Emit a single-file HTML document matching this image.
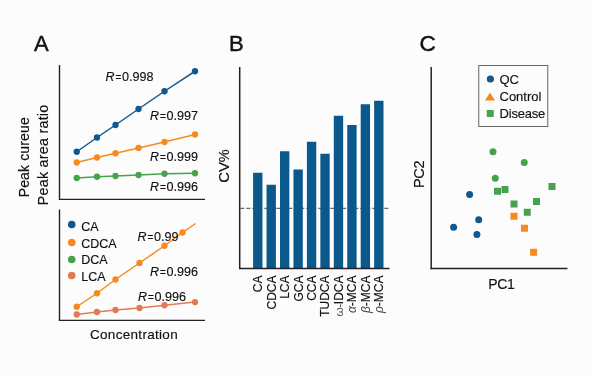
<!DOCTYPE html>
<html><head><meta charset="utf-8"><style>
html,body{margin:0;padding:0;background:#fcfcfc;}
svg{display:block;will-change:transform;}
text{font-family:"Liberation Sans",sans-serif;stroke:#111;stroke-width:0.15px;}
</style></head><body>
<svg width="592" height="377" viewBox="0 0 592 377">
<rect width="592" height="377" fill="#fcfcfc"/>
<text x="34" y="51.3" font-size="22" fill="#111" text-anchor="start" style="stroke-width:0.45px">A</text>
<text x="228.9" y="50.8" font-size="22" fill="#111" text-anchor="start" style="stroke-width:0.45px">B</text>
<text x="419.6" y="50.9" font-size="22.6" fill="#111" text-anchor="start" style="stroke-width:0.45px">C</text>
<line x1="59.5" y1="65" x2="59.5" y2="199.4" stroke="#222" stroke-width="1.4" />
<line x1="58.8" y1="199.4" x2="205" y2="199.4" stroke="#222" stroke-width="1.4" />
<polyline points="76.75,151.75 97,137.5 115.5,125 138.5,109 164.5,91.25 195,71.25" fill="none" stroke="#0f5890" stroke-width="1.5"/>
<circle cx="76.75" cy="151.75" r="3.15" fill="#0f5890"/>
<circle cx="97" cy="137.5" r="3.15" fill="#0f5890"/>
<circle cx="115.5" cy="125" r="3.15" fill="#0f5890"/>
<circle cx="138.5" cy="109" r="3.15" fill="#0f5890"/>
<circle cx="164.5" cy="91.25" r="3.15" fill="#0f5890"/>
<circle cx="195" cy="71.25" r="3.15" fill="#0f5890"/>
<polyline points="76.75,162.5 97,157.5 115.5,153.25 138.5,148 164.5,142 195,134.5" fill="none" stroke="#f7891f" stroke-width="1.5"/>
<circle cx="76.75" cy="162.5" r="3.15" fill="#f7891f"/>
<circle cx="97" cy="157.5" r="3.15" fill="#f7891f"/>
<circle cx="115.5" cy="153.25" r="3.15" fill="#f7891f"/>
<circle cx="138.5" cy="148" r="3.15" fill="#f7891f"/>
<circle cx="164.5" cy="142" r="3.15" fill="#f7891f"/>
<circle cx="195" cy="134.5" r="3.15" fill="#f7891f"/>
<polyline points="76.75,178 97,176.75 115.5,176 138.5,175 164.5,173.75 195,173.25" fill="none" stroke="#45a34f" stroke-width="1.5"/>
<circle cx="76.75" cy="178" r="3.15" fill="#45a34f"/>
<circle cx="97" cy="176.75" r="3.15" fill="#45a34f"/>
<circle cx="115.5" cy="176" r="3.15" fill="#45a34f"/>
<circle cx="138.5" cy="175" r="3.15" fill="#45a34f"/>
<circle cx="164.5" cy="173.75" r="3.15" fill="#45a34f"/>
<circle cx="195" cy="173.25" r="3.15" fill="#45a34f"/>
<text x="105.5" y="80.75" font-size="12.5" fill="#111" text-anchor="start" ><tspan font-style="italic">R</tspan><tspan font-size="10" dx="1.0">=</tspan><tspan font-size="12.6" dx="0.6">0.998</tspan></text>
<text x="150" y="120" font-size="12.5" fill="#111" text-anchor="start" ><tspan font-style="italic">R</tspan><tspan font-size="10" dx="1.0">=</tspan><tspan font-size="12.6" dx="0.6">0.997</tspan></text>
<text x="150" y="161.25" font-size="12.5" fill="#111" text-anchor="start" ><tspan font-style="italic">R</tspan><tspan font-size="10" dx="1.0">=</tspan><tspan font-size="12.6" dx="0.6">0.999</tspan></text>
<text x="150" y="191.25" font-size="12.5" fill="#111" text-anchor="start" ><tspan font-style="italic">R</tspan><tspan font-size="10" dx="1.0">=</tspan><tspan font-size="12.6" dx="0.6">0.996</tspan></text>
<text transform="translate(29.2,157.2) rotate(-90)" font-size="14" letter-spacing="0.15" fill="#111" text-anchor="middle">Peak cureue</text>
<text transform="translate(48.2,154.85) rotate(-90)" font-size="14.3" letter-spacing="0.25" fill="#111" text-anchor="middle">Peak area ratio</text>
<line x1="59.5" y1="209.5" x2="59.5" y2="320.4" stroke="#222" stroke-width="1.4" />
<line x1="58.8" y1="320.4" x2="205" y2="320.4" stroke="#222" stroke-width="1.4" />
<circle cx="71.75" cy="224.5" r="3.8" fill="#0f5890"/>
<text x="81.25" y="230.75" font-size="12.5" fill="#111" text-anchor="start" >CA</text>
<circle cx="71.75" cy="242.5" r="3.8" fill="#f7891f"/>
<text x="81.25" y="247.5" font-size="12.5" fill="#111" text-anchor="start" >CDCA</text>
<circle cx="71.75" cy="259.5" r="3.8" fill="#45a34f"/>
<text x="81.25" y="264.25" font-size="12.5" fill="#111" text-anchor="start" >DCA</text>
<circle cx="71.75" cy="275.5" r="3.8" fill="#e07a55"/>
<text x="81.25" y="280.5" font-size="12.5" fill="#111" text-anchor="start" >LCA</text>
<polyline points="76.75,306.75 97,293.25 115.5,279.5 139.5,263 164.5,245.75 182.5,232.5 195.6,223.5" fill="none" stroke="#f7891f" stroke-width="1.5"/>
<circle cx="76.75" cy="306.75" r="3.15" fill="#f7891f"/>
<circle cx="97" cy="293.25" r="3.15" fill="#f7891f"/>
<circle cx="115.5" cy="279.5" r="3.15" fill="#f7891f"/>
<circle cx="139.5" cy="263" r="3.15" fill="#f7891f"/>
<circle cx="164.5" cy="245.75" r="3.15" fill="#f7891f"/>
<circle cx="182.5" cy="232.5" r="3.15" fill="#f7891f"/>
<polyline points="76.75,314.5 97,312 115.5,310 139.5,308 164.5,305.25 195,302.1" fill="none" stroke="#e07a55" stroke-width="1.5"/>
<circle cx="76.75" cy="314.5" r="3.15" fill="#e07a55"/>
<circle cx="97" cy="312" r="3.15" fill="#e07a55"/>
<circle cx="115.5" cy="310" r="3.15" fill="#e07a55"/>
<circle cx="139.5" cy="308" r="3.15" fill="#e07a55"/>
<circle cx="164.5" cy="305.25" r="3.15" fill="#e07a55"/>
<circle cx="195" cy="302.1" r="3.15" fill="#e07a55"/>
<text x="137.4" y="240.75" font-size="12.5" fill="#111" text-anchor="start" ><tspan font-style="italic">R</tspan><tspan font-size="10" dx="1.0">=</tspan><tspan font-size="12.6" dx="0.6">0.99</tspan></text>
<text x="150" y="275.5" font-size="12.5" fill="#111" text-anchor="start" ><tspan font-style="italic">R</tspan><tspan font-size="10" dx="1.0">=</tspan><tspan font-size="12.6" dx="0.6">0.996</tspan></text>
<text x="138" y="300.5" font-size="12.5" fill="#111" text-anchor="start" ><tspan font-style="italic">R</tspan><tspan font-size="10" dx="1.0">=</tspan><tspan font-size="12.6" dx="0.6">0.996</tspan></text>
<text x="90" y="339" font-size="13.5" fill="#111" text-anchor="start" letter-spacing="0.3">Concentration</text>
<line x1="240.3" y1="208.3" x2="390" y2="208.3" stroke="#444" stroke-width="1.0" stroke-dasharray="4 2"/>
<rect x="253.10" y="172.75" width="9.35" height="95.64999999999998" fill="#0a588c"/>
<rect x="266.55" y="184.75" width="9.35" height="83.64999999999998" fill="#0a588c"/>
<rect x="280.00" y="151.25" width="9.35" height="117.14999999999998" fill="#0a588c"/>
<rect x="293.45" y="169.5" width="9.35" height="98.89999999999998" fill="#0a588c"/>
<rect x="306.90" y="141.75" width="9.35" height="126.64999999999998" fill="#0a588c"/>
<rect x="320.35" y="153.75" width="9.35" height="114.64999999999998" fill="#0a588c"/>
<rect x="333.80" y="115.75" width="9.35" height="152.64999999999998" fill="#0a588c"/>
<rect x="347.25" y="125" width="9.35" height="143.39999999999998" fill="#0a588c"/>
<rect x="360.70" y="104.25" width="9.35" height="164.14999999999998" fill="#0a588c"/>
<rect x="374.15" y="100.75" width="9.35" height="167.64999999999998" fill="#0a588c"/>
<line x1="239.7" y1="67" x2="239.7" y2="269.1" stroke="#222" stroke-width="1.5" />
<line x1="239.25" y1="268.4" x2="389.5" y2="268.4" stroke="#222" stroke-width="1.5" />
<text transform="translate(229.4,166) rotate(-90)" font-size="15" fill="#111" text-anchor="middle">CV<tspan font-size="14.5" dx="-0.2">%</tspan></text>
<text transform="translate(262.20,275.5) rotate(-90)" font-size="12" fill="#111" text-anchor="end">CA</text>
<text transform="translate(275.65,275.5) rotate(-90)" font-size="12" fill="#111" text-anchor="end">CDCA</text>
<text transform="translate(289.10,275.5) rotate(-90)" font-size="12" fill="#111" text-anchor="end">LCA</text>
<text transform="translate(302.55,275.5) rotate(-90)" font-size="12" fill="#111" text-anchor="end">GCA</text>
<text transform="translate(316.00,275.5) rotate(-90)" font-size="12" fill="#111" text-anchor="end">CCA</text>
<text transform="translate(329.45,275.5) rotate(-90)" font-size="12" fill="#111" text-anchor="end">TUDCA</text>
<text transform="translate(342.90,275.5) rotate(-90)" font-size="12" fill="#111" text-anchor="end"><tspan fill="#555" style="stroke:none" font-size="11.8">ω</tspan><tspan font-size="9.5">-</tspan>IDCA</text>
<text transform="translate(356.35,275.5) rotate(-90)" font-size="12" fill="#111" text-anchor="end"><tspan fill="#444" style="stroke:none" font-style="italic">α</tspan>-MCA</text>
<text transform="translate(369.80,275.5) rotate(-90)" font-size="12" fill="#111" text-anchor="end"><tspan fill="#444" style="stroke:none" font-style="italic">β</tspan>-MCA</text>
<text transform="translate(383.25,275.5) rotate(-90)" font-size="12" fill="#111" text-anchor="end"><tspan fill="#444" style="stroke:none" font-style="italic">ρ</tspan>-MCA</text>
<line x1="431.2" y1="67" x2="431.2" y2="269.2" stroke="#222" stroke-width="1.5" />
<line x1="430.5" y1="268.5" x2="567.5" y2="268.5" stroke="#222" stroke-width="1.5" />
<rect x="478.75" y="65.5" width="69" height="61" fill="none" stroke="#666" stroke-width="1"/>
<circle cx="490.4" cy="79" r="3.6" fill="#0f5890"/>
<polygon points="485,100.5 495,100.5 490,92.5" fill="#f7891f"/>
<rect x="486.75" y="110" width="7" height="7" fill="#45a34f"/>
<text x="499.5" y="83.75" font-size="13" fill="#111" text-anchor="start" >QC</text>
<text x="499.5" y="101.25" font-size="13" fill="#111" text-anchor="start" >Control</text>
<text x="499.5" y="118.25" font-size="13" fill="#111" text-anchor="start" letter-spacing="-0.2">Disease</text>
<circle cx="493" cy="151.75" r="3.5" fill="#45a34f"/>
<circle cx="524.25" cy="162.5" r="3.5" fill="#45a34f"/>
<circle cx="495.25" cy="178.25" r="3.5" fill="#45a34f"/>
<circle cx="469.6" cy="194.4" r="3.5" fill="#0f5890"/>
<circle cx="478.7" cy="219.8" r="3.5" fill="#0f5890"/>
<circle cx="453.6" cy="227.2" r="3.5" fill="#0f5890"/>
<circle cx="476.9" cy="234.5" r="3.5" fill="#0f5890"/>
<rect x="494.0" y="187.75" width="7" height="7" fill="#45a34f"/>
<rect x="501.5" y="186.0" width="7" height="7" fill="#45a34f"/>
<rect x="548.5" y="183.0" width="7" height="7" fill="#45a34f"/>
<rect x="510.5" y="200.5" width="7" height="7" fill="#45a34f"/>
<rect x="533.0" y="198.0" width="7" height="7" fill="#45a34f"/>
<rect x="523.75" y="208.75" width="7" height="7" fill="#45a34f"/>
<rect x="510.5" y="212.75" width="7" height="7" fill="#f7891f"/>
<rect x="521.0" y="224.75" width="7" height="7" fill="#f7891f"/>
<rect x="530.1" y="248.8" width="7" height="7" fill="#f7891f"/>
<text transform="translate(423.8,174.4) rotate(-90)" font-size="14.5" letter-spacing="-0.3" fill="#111" text-anchor="middle">PC2</text>
<text x="488.3" y="289" font-size="14" fill="#111" text-anchor="start" letter-spacing="-0.4">PC1</text>
</svg>
</body></html>
